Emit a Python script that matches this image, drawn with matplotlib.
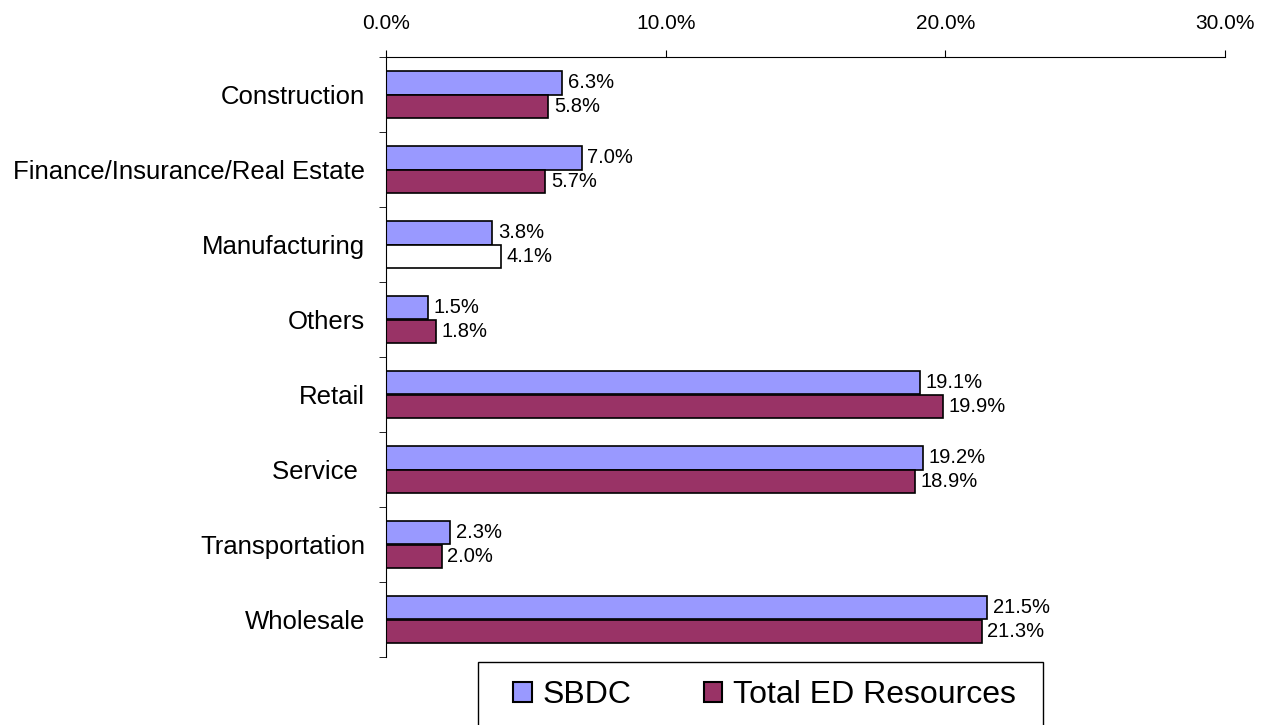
import matplotlib
matplotlib.use("Agg")
import matplotlib.pyplot as plt
import numpy as np
from matplotlib.patches import Patch, Rectangle
from matplotlib.ticker import FuncFormatter, MultipleLocator

plt.rcParams['font.family'] = ['Liberation Sans', 'DejaVu Sans']

categories = ["Construction", "Finance/Insurance/Real Estate", "Manufacturing", "Others",
              "Retail", "Service ", "Transportation", "Wholesale"]
sbdc = [6.3, 7.0, 3.8, 1.5, 19.1, 19.2, 2.3, 21.5]
total_ed = [5.8, 5.7, 4.1, 1.8, 19.9, 18.9, 2.0, 21.3]
series_names = ["SBDC", "Total ED Resources"]
sbdc_color = "#9999FF"
total_color = "#993366"

W, H = 1266, 725
fig = plt.figure(figsize=(W/100, H/100), dpi=100)
ax = fig.add_axes([386/W, 1-657/H, (1225-386)/W, (657-57)/H])

y = np.arange(len(categories))
h = 0.307
b1 = ax.barh(y - h/2, sbdc, height=h, color=sbdc_color, edgecolor="black", linewidth=1.2)
tot_colors = [total_color] * len(categories)
tot_colors[2] = "white"
b2 = ax.barh(y + h/2, total_ed, height=h, color=tot_colors, edgecolor="black", linewidth=1.2)

for bars, vals in ((b1, sbdc), (b2, total_ed)):
    for bar, v in zip(bars, vals):
        ax.annotate(f"{v:.1f}%", (v, bar.get_y() + bar.get_height()/2), xytext=(4, 0),
                    textcoords="offset points", va="center", ha="left", fontsize=14.5)

ax.set_xlim(0, 30)
ax.set_ylim(len(categories) - 0.5, -0.5)
ax.xaxis.set_major_locator(MultipleLocator(10))
ax.xaxis.set_major_formatter(FuncFormatter(lambda v, p: f"{v:.1f}%"))
ax.xaxis.tick_top()
ax.tick_params(axis="x", direction="out", length=5, labelsize=15, pad=12)

ax.set_yticks(y)
ax.set_yticklabels(categories, fontsize=18.5)
ax.set_yticks(np.arange(len(categories) + 1) - 0.5, minor=True)
ax.tick_params(axis="y", which="major", length=0, pad=15)
ax.tick_params(axis="y", which="minor", length=5, direction="out")

for s in ("right", "bottom"):
    ax.spines[s].set_visible(False)
ax.spines["left"].set_color("black")
ax.spines["top"].set_color("black")

# legend frame
fig.patches.append(Rectangle((478/W, -0.05), (1043-478)/W, 0.05 + (1-662/H),
                             transform=fig.transFigure, facecolor="white",
                             edgecolor="black", linewidth=1.0))

handles = [Patch(facecolor=sbdc_color, edgecolor="black", linewidth=1.5),
           Patch(facecolor=total_color, edgecolor="black", linewidth=1.5)]
leg = fig.legend(handles, series_names, loc="center left", bbox_to_anchor=(513/W, 1-695/H),
                 ncol=2, fontsize=23, frameon=False,
                 handlelength=0.58, handleheight=0.58, handletextpad=0.35, columnspacing=2.25,
                 borderpad=0, borderaxespad=0)

fig.savefig("out.png", dpi=100)
